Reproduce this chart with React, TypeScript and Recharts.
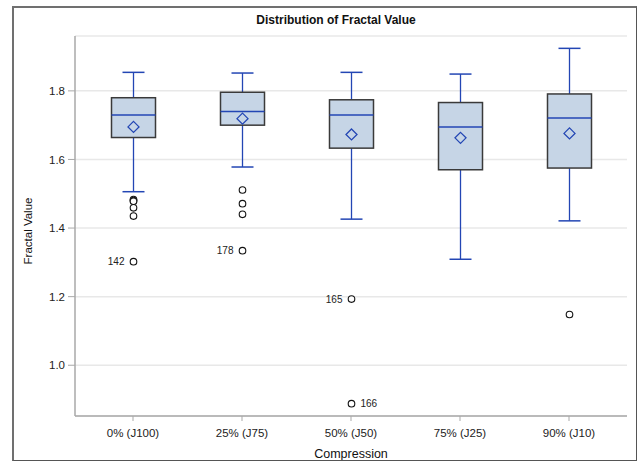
import React from 'react';
import { ComposedChart, Bar, XAxis, YAxis, CartesianGrid } from 'recharts';

const categories = ['0% (J100)', '25% (J75)', '50% (J50)', '75% (J25)', '90% (J10)'];
const whiskerLow = [1.506, 1.578, 1.426, 1.309, 1.421];
const q1 = [1.664, 1.7, 1.633, 1.57, 1.575];
const median = [1.73, 1.74, 1.73, 1.695, 1.721];
const q3 = [1.78, 1.796, 1.774, 1.766, 1.791];
const whiskerHigh = [1.854, 1.852, 1.854, 1.849, 1.924];
const means = [1.695, 1.719, 1.673, 1.663, 1.676];
const outliers = [
  [1.483, 1.48, 1.478, 1.459, 1.435, 1.302],
  [1.511, 1.471, 1.44, 1.334],
  [1.193, 0.888],
  [],
  [1.148],
];
// observation ids shown next to some outliers: [category, value, id, side]
const outlierLabels: [number, number, string, 'left' | 'right'][] = [
  [0, 1.302, '142', 'left'],
  [1, 1.334, '178', 'left'],
  [2, 1.193, '165', 'left'],
  [2, 0.888, '166', 'right'],
];
const yTicks = [1.0, 1.2, 1.4, 1.6, 1.8];
const yDomain = [0.852, 1.96];

const data = categories.map((name, i) => ({
  name,
  idx: i,
  low: whiskerLow[i],
  q1: q1[i],
  median: median[i],
  q3: q3[i],
  high: whiskerHigh[i],
  mean: means[i],
  outliers: outliers[i],
}));

const FONT = '"Liberation Sans", Arial, sans-serif';
const BLUE = '#2346b4';
const BOX_FILL = '#c6d5e6';
const AXIS = '#a9a9a9';

const BoxShape = (props: any) => {
  const { x, y, width, height, payload } = props;
  if (!payload) return null;
  const top = Math.min(y, y + height);
  const bot = Math.max(y, y + height);
  // map a value to pixels using the bar's own [low, high] placement
  const py = (v: number) => top + ((payload.high - v) / (payload.high - payload.low)) * (bot - top);
  const cx = x + width / 2;
  const cap = width / 4;
  const yq1 = py(payload.q1);
  const yq3 = py(payload.q3);
  const ym = py(payload.mean);
  const d = 5.5;
  const labels = outlierLabels.filter((l) => l[0] === payload.idx);
  return (
    <g>
      <line x1={cx} x2={cx} y1={top} y2={yq3} stroke={BLUE} strokeWidth={1.3} />
      <line x1={cx} x2={cx} y1={yq1} y2={bot} stroke={BLUE} strokeWidth={1.3} />
      <line x1={cx - cap} x2={cx + cap} y1={top} y2={top} stroke={BLUE} strokeWidth={1.5} />
      <line x1={cx - cap} x2={cx + cap} y1={bot} y2={bot} stroke={BLUE} strokeWidth={1.5} />
      <rect x={x} y={yq3} width={width} height={yq1 - yq3} fill={BOX_FILL} stroke="#3a3a3a" strokeWidth={1.5} />
      <line x1={x} x2={x + width} y1={py(payload.median)} y2={py(payload.median)} stroke={BLUE} strokeWidth={1.5} />
      <path
        d={`M${cx},${ym - d} L${cx + d},${ym} L${cx},${ym + d} L${cx - d},${ym} Z`}
        fill="none"
        stroke={BLUE}
        strokeWidth={1.3}
      />
      {payload.outliers.map((v: number, i: number) => (
        <circle key={i} cx={cx} cy={py(v)} r={3.3} fill="#fff" stroke="#111" strokeWidth={1.1} />
      ))}
      {labels.map((l, i) => (
        <text
          key={'l' + i}
          x={l[3] === 'left' ? cx - 9 : cx + 9}
          y={py(l[1])}
          dy="0.35em"
          textAnchor={l[3] === 'left' ? 'end' : 'start'}
          fontSize={10}
          fontFamily={FONT}
          fill="#222"
        >
          {l[2]}
        </text>
      ))}
    </g>
  );
};

const App: React.FC = () => {
  return (
    <div style={{ position: 'absolute', left: 0, top: 0, width: 637, height: 461, background: '#fff', fontFamily: FONT }}>
      <ComposedChart
        width={637}
        height={461}
        data={data}
        margin={{ top: 36, right: 10, bottom: 0, left: 0 }}
      >
        <CartesianGrid vertical={false} stroke="#e8e8e8" strokeWidth={1.5} />
        <XAxis
          dataKey="name"
          height={45}
          padding={{ left: 3.5, right: 3.5 }}
          axisLine={{ stroke: AXIS, strokeWidth: 1.5 }}
          tickLine={{ stroke: AXIS }}
          tickSize={5}
          tickMargin={8}
          tick={{ fontSize: 11.5, fill: '#222', fontFamily: FONT }}
          label={{ value: 'Compression', position: 'insideBottom', offset: 3, fontSize: 12.5, fill: '#111', fontFamily: FONT }}
        />
        <XAxis
          xAxisId="top"
          orientation="top"
          dataKey="name"
          height={0}
          tick={false}
          tickLine={false}
          axisLine={{ stroke: AXIS, strokeWidth: 1.5 }}
        />
        <YAxis
          type="number"
          domain={yDomain}
          ticks={yTicks}
          allowDataOverflow
          width={75}
          tickFormatter={(v: number) => v.toFixed(1)}
          axisLine={{ stroke: AXIS, strokeWidth: 1.5 }}
          tickLine={{ stroke: AXIS }}
          tickSize={7}
          tickMargin={3}
          tick={{ fontSize: 11.5, fill: '#222', fontFamily: FONT }}
          label={{
            value: 'Fractal Value',
            angle: -90,
            position: 'insideLeft',
            offset: 28,
            dy: 5,
            fontSize: 11.5,
            fill: '#111',
            fontFamily: FONT,
            style: { textAnchor: 'middle' },
          }}
        />
        <YAxis
          yAxisId="r"
          orientation="right"
          type="number"
          domain={yDomain}
          allowDataOverflow
          width={0}
          tick={false}
          tickLine={false}
          axisLine={{ stroke: AXIS, strokeWidth: 1.5 }}
        />
        <Bar
          dataKey={(d: any) => [d.low, d.high]}
          barSize={44}
          shape={BoxShape}
          isAnimationActive={false}
        />
      </ComposedChart>
      <div
        style={{
          position: 'absolute',
          left: 0,
          top: 13,
          width: 672,
          textAlign: 'center',
          fontSize: 12,
          fontWeight: 'bold',
          color: '#111',
        }}
      >
        Distribution of Fractal Value
      </div>
      <div
        style={{
          position: 'absolute',
          left: 12,
          top: 6,
          width: 625,
          height: 455,
          boxSizing: 'border-box',
          borderTop: '2px solid #707070',
          borderLeft: '2px solid #707070',
          borderRight: '1.5px solid #555',
          borderBottom: '1.5px solid #555',
          pointerEvents: 'none',
        }}
      />
    </div>
  );
};

export default App;
